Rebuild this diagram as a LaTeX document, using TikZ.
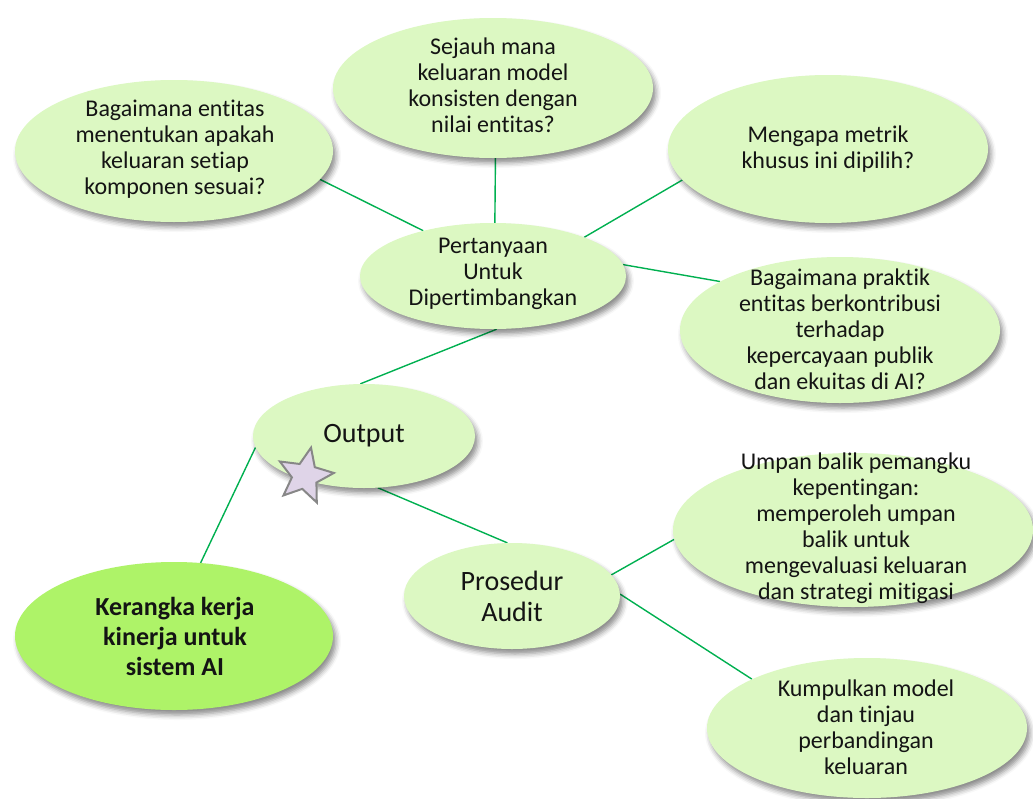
\documentclass[tikz,border=0pt]{standalone}
\usepackage{fontspec}
\setmainfont[Ligatures={NoCommon,NoContextual}]{Carlito}
\usetikzlibrary{shapes.geometric,shadows.blur,backgrounds}
\definecolor{bubblefill}{RGB}{220,248,194}
\definecolor{corefill}{RGB}{174,243,104}
\definecolor{linkgreen}{RGB}{0,176,80}
\definecolor{starfill}{RGB}{223,212,232}
\definecolor{stargray}{RGB}{135,135,135}
\definecolor{ink}{RGB}{20,20,20}
\begin{document}
\begin{tikzpicture}[x=1pt,y=-1pt,
  bubble/.style={ellipse, fill=bubblefill, inner sep=0pt,
    blur shadow={shadow xshift=3pt, shadow yshift=-5pt,
                 shadow blur radius=5pt, shadow opacity=45}},
  core/.style={bubble, fill=corefill},
  bubbletext/.style={align=center, text=ink, inner sep=0pt,
    font=\fontsize{24}{26}\selectfont},
  bigtext/.style={bubbletext, font=\fontsize{28}{31}\selectfont},
  coretext/.style={bubbletext, font=\bfseries\fontsize{26}{30}\selectfont},
  link/.style={draw=linkgreen, line width=1.4pt},
  marker/.style={star, star points=5, star point ratio=2.2, minimum size=58pt,
    inner sep=0pt, rotate=-12, fill=starfill, draw=stargray, line width=2pt}
]
\useasboundingbox (0,0) rectangle (1033,798);

% ellipses
\node[bubble, minimum width=318pt, minimum height=142pt] (q1) at (174,151) {};
\node[bubble, minimum width=320pt, minimum height=140pt] (q2) at (493,88) {};
\node[bubble, minimum width=320pt, minimum height=148pt] (q3) at (828,149) {};
\node[bubble, minimum width=266pt, minimum height=106pt] (pert) at (493,276) {};
\node[bubble, minimum width=320pt, minimum height=146pt] (q4) at (840,330) {};
\node[bubble, minimum width=222pt, minimum height=104pt] (out) at (364,436) {};
\node[bubble, minimum width=216pt, minimum height=106pt] (aud) at (512,596) {};
\node[bubble, minimum width=360pt, minimum height=154pt] (fb) at (853,530) {};
\node[bubble, minimum width=320pt, minimum height=140pt] (coll) at (867,728) {};
\node[core, minimum width=318pt, minimum height=148pt] (main) at (174,636) {};

% texts
\node[bubbletext] (q1t) at (175,149) {Bagaimana entitas\\menentukan apakah\\keluaran setiap\\komponen sesuai?};
\node[bubbletext] (q2t) at (493,85) {Sejauh mana\\keluaran model\\konsisten dengan\\nilai entitas?};
\node[bubbletext] (q3t) at (828,149) {Mengapa metrik\\khusus ini dipilih?};
\node[bubbletext] (pertt) at (493,274) {Pertanyaan\\Untuk\\Dipertimbangkan};
\node[bubbletext] (q4t) at (840,329) {Bagaimana praktik\\entitas berkontribusi\\terhadap\\kepercayaan publik\\dan ekuitas di AI?};
\node[bigtext] (outt) at (364,436) {Output};
\node[bigtext] (audt) at (512,596) {Prosedur\\Audit};
\node[bubbletext] (fbt) at (856,528) {Umpan balik pemangku\\kepentingan:\\memperoleh umpan\\balik untuk\\mengevaluasi keluaran\\dan strategi mitigasi};
\node[bubbletext] (collt) at (866,727) {Kumpulkan model\\dan tinjau\\perbandingan\\keluaran};
\node[coretext] (maint) at (175,636) {Kerangka kerja\\kinerja untuk\\sistem AI};

% star marker on the Output bubble
\node[marker] (mark) at (305,476) {};

% connectors
\begin{scope}[on background layer]
  \draw[link] (q1.-11) -- (pert.147);
  \draw[link] (q2.-88) -- (pert.88);
  \draw[link] (pert.23) -- (q3.192);
  \draw[link] (pert.5) -- (q4.158);
  \draw[link] (pert.-86) -- (out.94);
  \draw[link] (out.186) -- (main.70);
  \draw[link] (out.-75) -- (aud.95);
  \draw[link] (aud.12) -- (fb.183);
  \draw[link] (aud.1) -- (coll.157);
\end{scope}
\end{tikzpicture}
\end{document}
